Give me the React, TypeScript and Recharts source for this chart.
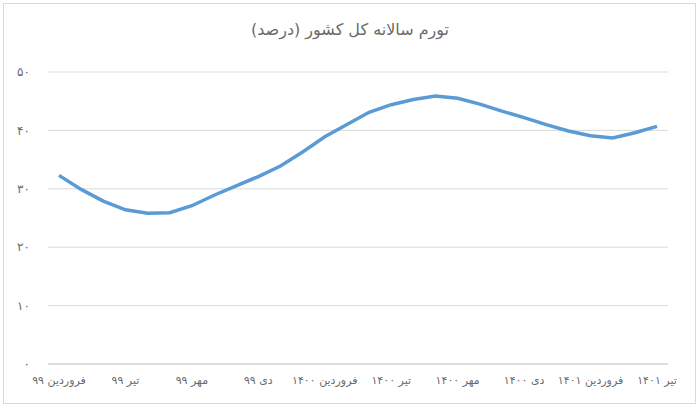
import React from 'react';
import { LineChart, Line, XAxis, YAxis, CartesianGrid } from 'recharts';

// monthly, فروردین ۹۹ .. تیر ۱۴۰۱
const months = [
  'فروردین ۹۹', 'اردیبهشت ۹۹', 'خرداد ۹۹', 'تیر ۹۹', 'مرداد ۹۹', 'شهریور ۹۹',
  'مهر ۹۹', 'آبان ۹۹', 'آذر ۹۹', 'دی ۹۹', 'بهمن ۹۹', 'اسفند ۹۹',
  'فروردین ۱۴۰۰', 'اردیبهشت ۱۴۰۰', 'خرداد ۱۴۰۰', 'تیر ۱۴۰۰', 'مرداد ۱۴۰۰', 'شهریور ۱۴۰۰',
  'مهر ۱۴۰۰', 'آبان ۱۴۰۰', 'آذر ۱۴۰۰', 'دی ۱۴۰۰', 'بهمن ۱۴۰۰', 'اسفند ۱۴۰۰',
  'فروردین ۱۴۰۱', 'اردیبهشت ۱۴۰۱', 'خرداد ۱۴۰۱', 'تیر ۱۴۰۱',
];

const inflation = [
  32.3, 29.9, 27.9, 26.4, 25.8, 25.9, 27.1, 28.9, 30.5, 32.1, 33.9, 36.3,
  38.9, 41.0, 43.1, 44.4, 45.3, 45.9, 45.5, 44.5, 43.3, 42.2, 41.0, 39.9,
  39.1, 38.7, 39.6, 40.7,
];

const yTicks = [0, 10, 20, 30, 40, 50];
const yTickLabels = ['۰', '۱۰', '۲۰', '۳۰', '۴۰', '۵۰'];

const data = months.map((m, i) => ({ month: m, value: inflation[i] }));

const font = '"DejaVu Sans", "Noto Sans", sans-serif';

export default function App() {
  return (
    <div style={{ position: 'fixed', left: 0, top: 0, width: 700, height: 409, background: '#fff' }}>
      <div
        style={{
          position: 'absolute', left: 3, top: 3, width: 693, height: 401,
          border: '1px solid #d9d9d9', boxSizing: 'border-box',
        }}
      />
      <div
        style={{
          position: 'absolute', left: 0, top: 20, width: 700, textAlign: 'center',
          fontFamily: font, fontSize: 16, color: '#6a6a6a', direction: 'rtl',
        }}
      >
        تورم سالانه کل کشور (درصد)
      </div>
      <div style={{ position: 'absolute', left: 0, top: 0 }}>
        <LineChart width={700} height={409} data={data} margin={{ top: 72, right: 32, bottom: 15, left: 0 }}>
          <CartesianGrid vertical={false} stroke="#d9d9d9" strokeWidth={1} />
          <XAxis
            dataKey="month"
            interval={2}
            padding={{ left: 11, right: 11 }}
            height={30}
            tickLine={false}
            tickSize={0}
            tickMargin={12}
            axisLine={{ stroke: '#d0d0d0' }}
            tick={{ fontFamily: font, fontSize: 11, fill: '#6a6a6a' }}
          />
          <YAxis
            width={48}
            domain={[0, 50]}
            ticks={yTicks}
            tickFormatter={(v: number) => yTickLabels[yTicks.indexOf(v)]}
            axisLine={false}
            tickLine={false}
            tickSize={0}
            tickMargin={18}
            tick={{ fontFamily: font, fontSize: 12, fill: '#6a6a6a' }}
          />
          <Line
            type="linear"
            dataKey="value"
            stroke="#5b9bd5"
            strokeWidth={3.5}
            dot={false}
            isAnimationActive={false}
          />
        </LineChart>
      </div>
    </div>
  );
}
